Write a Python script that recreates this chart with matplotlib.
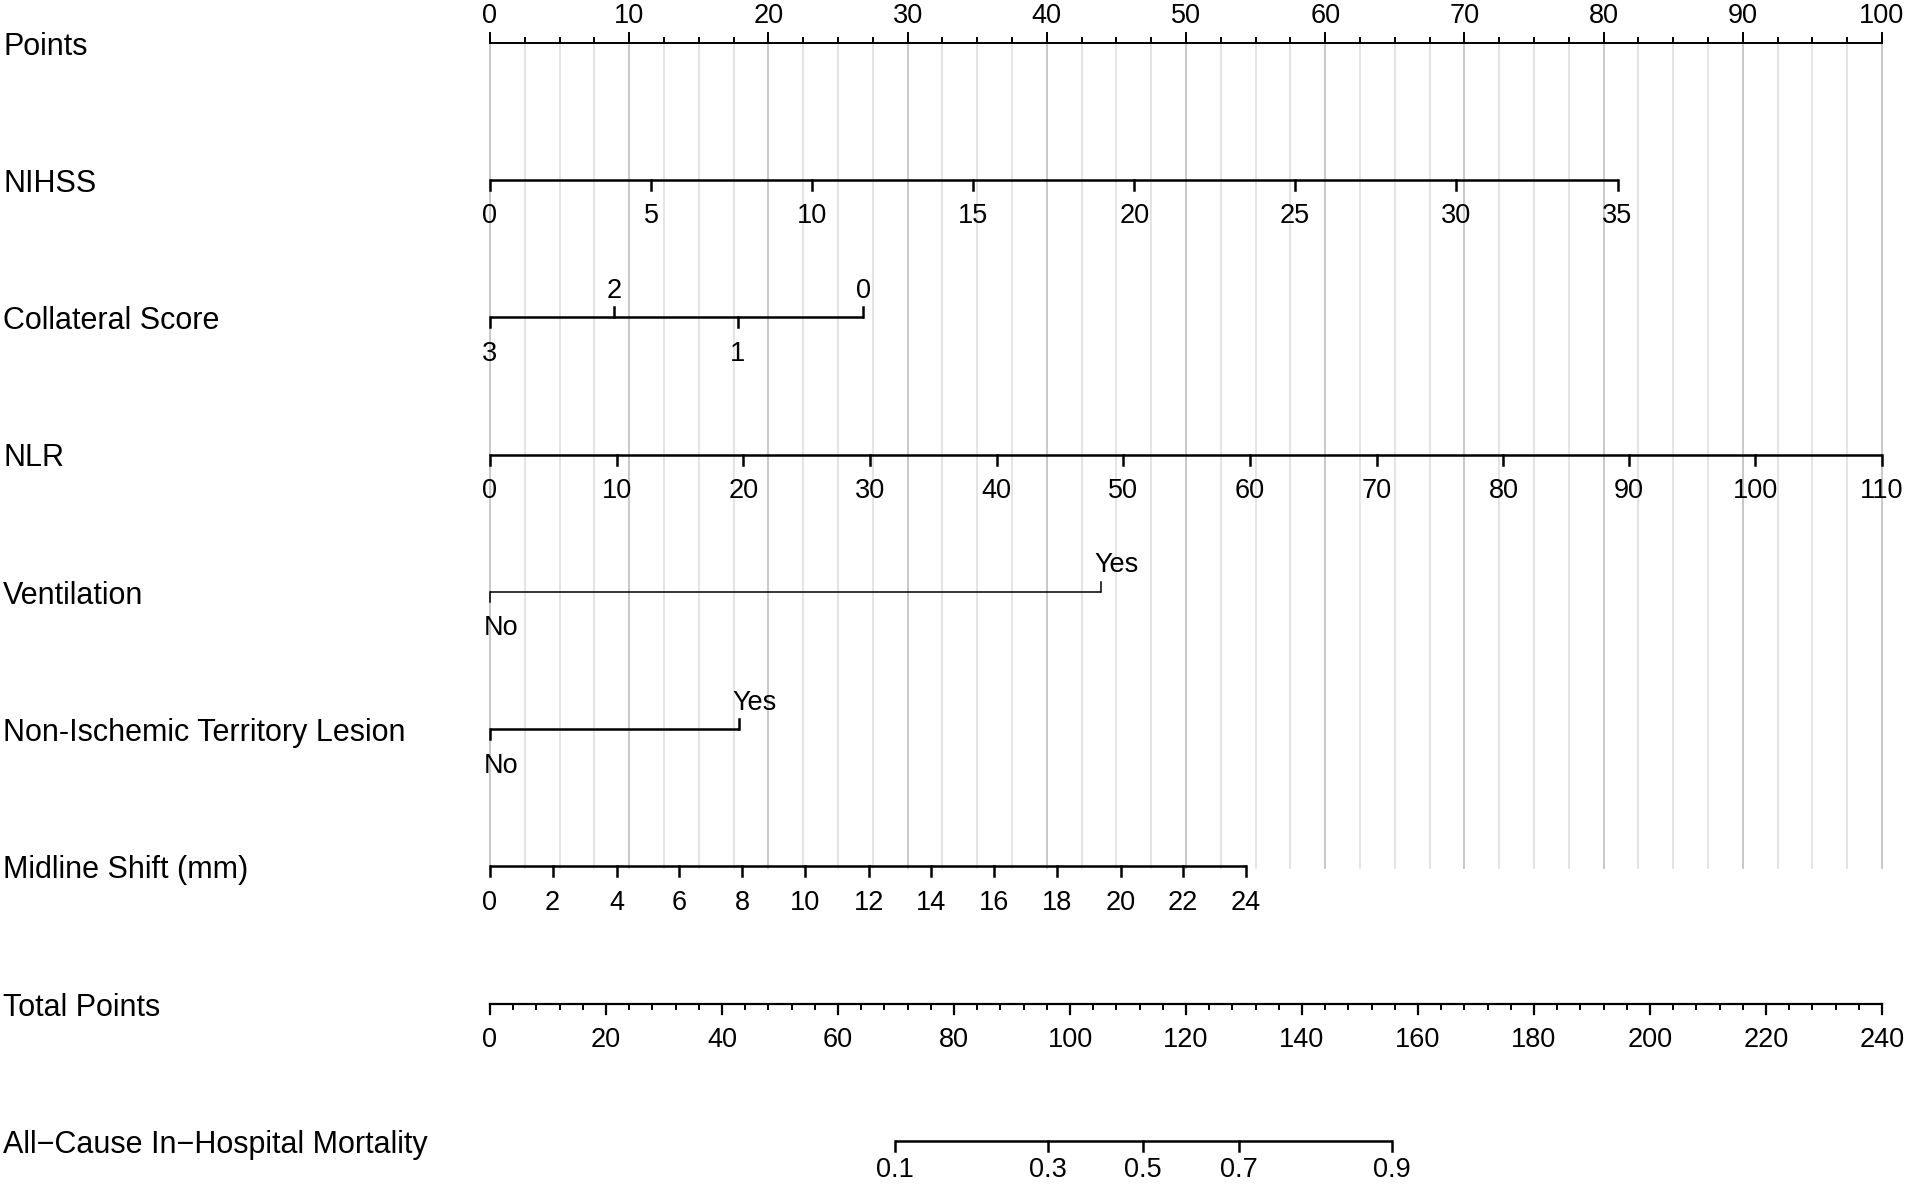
import numpy as np
import matplotlib
matplotlib.use("Agg")
import matplotlib.pyplot as plt

plt.rcParams['font.family'] = ['Liberation Sans', 'DejaVu Sans']

row_names = ["Points", "NIHSS", "Collateral Score", "NLR", "Ventilation",
             "Non-Ischemic Territory Lesion", "Midline Shift (mm)",
             "Total Points", "All\u2212Cause In\u2212Hospital Mortality"]

points_labels = [0, 10, 20, 30, 40, 50, 60, 70, 80, 90, 100]

nihss_vals = [0, 5, 10, 15, 20, 25, 30, 35]
nihss_pts = [0, 11.6, 23.1, 34.7, 46.3, 57.8, 69.4, 81.0]

coll_vals = ["3", "2", "1", "0"]
coll_pts = [0, 8.9, 17.8, 26.8]
coll_side = ["below", "above", "below", "above"]

nlr_vals = [0, 10, 20, 30, 40, 50, 60, 70, 80, 90, 100, 110]
nlr_pts = [0, 9.1, 18.2, 27.3, 36.4, 45.5, 54.6, 63.7, 72.8, 81.8, 90.9, 100]

vent_vals = ["No", "Yes"]
vent_pts = [0, 43.9]

nonisch_vals = ["No", "Yes"]
nonisch_pts = [0, 17.9]

midline_vals = [0, 2, 4, 6, 8, 10, 12, 14, 16, 18, 20, 22, 24]
midline_pts = [0, 4.5, 9.1, 13.6, 18.1, 22.6, 27.2, 31.7, 36.2, 40.7, 45.3, 49.8, 54.3]

total_labels = [0, 20, 40, 60, 80, 100, 120, 140, 160, 180, 200, 220, 240]
total_max = 240

mort_vals = ["0.1", "0.3", "0.5", "0.7", "0.9"]
mort_total = [69.8, 96.2, 112.6, 129.1, 155.5]

# Layout (Pixel-Koordinaten)
W, H = 1907, 1184
x0_px, x1_px = 490, 1882
ppx = (x1_px - x0_px) / 100.0
row_y = [42.6 + i * 137.3 for i in range(9)]
TL = 10
fs_row = 22
fs = 19.5
off_below = 36.5
off_above = -26.5

fig = plt.figure(figsize=(W / 100, H / 100), dpi=100)
ax = fig.add_axes([0, 0, 1, 1])
ax.set_xlim(-x0_px / ppx, (W - x0_px) / ppx)
ax.set_ylim(H, 0)
ax.axis('off')

# Gitterlinien
for g in np.arange(0, 100.01, 2.5):
    major = abs(g / 10 - round(g / 10)) < 1e-9
    ax.plot([g, g], [row_y[0], row_y[6] + 2], color='#c4c4c4' if major else '#e2e2e2',
            lw=1.3, zorder=0)

# Zeilenbeschriftungen
px_off = 3.0 / ppx
for name, y in zip(row_names, row_y):
    ax.text(-x0_px / ppx + px_off, y + 4, name, ha='left', va='center', fontsize=fs_row)


def scale(y, pts, labels, side="below", lw=1.8, sides=None, ha='center', dx=0.0,
          below=off_below):
    ax.plot([pts[0], pts[-1]], [y, y], color='black', lw=lw, solid_capstyle='butt')
    for i, (p, lab) in enumerate(zip(pts, labels)):
        s = sides[i] if sides else side
        if s == "below":
            ax.plot([p, p], [y, y + TL], color='black', lw=lw)
            ax.text(p + dx, y + below, str(lab), ha=ha, va='center', fontsize=fs)
        else:
            ax.plot([p, p], [y, y - TL], color='black', lw=lw)
            ax.text(p + dx, y + off_above, str(lab), ha=ha, va='center', fontsize=fs)


# Points Achse
y = row_y[0]
ax.plot([0, 100], [y, y], color='black', lw=1.4)
for m in np.arange(0, 100.01, 2.5):
    ax.plot([m, m], [y, y - 5], color='black', lw=1.4)
for p in points_labels:
    ax.plot([p, p], [y, y - TL], color='black', lw=1.4)
    ax.text(p, y - 27, str(p), ha='center', va='center', fontsize=fs)

scale(row_y[1], nihss_pts, nihss_vals)
scale(row_y[2], coll_pts, coll_vals, sides=coll_side)
scale(row_y[3], nlr_pts, nlr_vals)
scale(row_y[4], vent_pts, vent_vals, sides=["below", "above"], lw=1.1, ha='left', dx=-0.45)
scale(row_y[5], nonisch_pts, nonisch_vals, sides=["below", "above"], ha='left', dx=-0.45)
scale(row_y[6], midline_pts, midline_vals)

# Total Points
y = row_y[7]
k = 100.0 / total_max
ax.plot([0, 100], [y, y], color='black', lw=1.6)
for m in range(0, total_max + 1, 4):
    ax.plot([m * k, m * k], [y, y + 5], color='black', lw=1.4)
for t in total_labels:
    ax.plot([t * k, t * k], [y, y + TL], color='black', lw=1.6)
    ax.text(t * k, y + off_below, str(t), ha='center', va='center', fontsize=fs)

# Mortality
scale(row_y[8], [t * k for t in mort_total], mort_vals, below=29)

fig.savefig("out.png", dpi=100)
